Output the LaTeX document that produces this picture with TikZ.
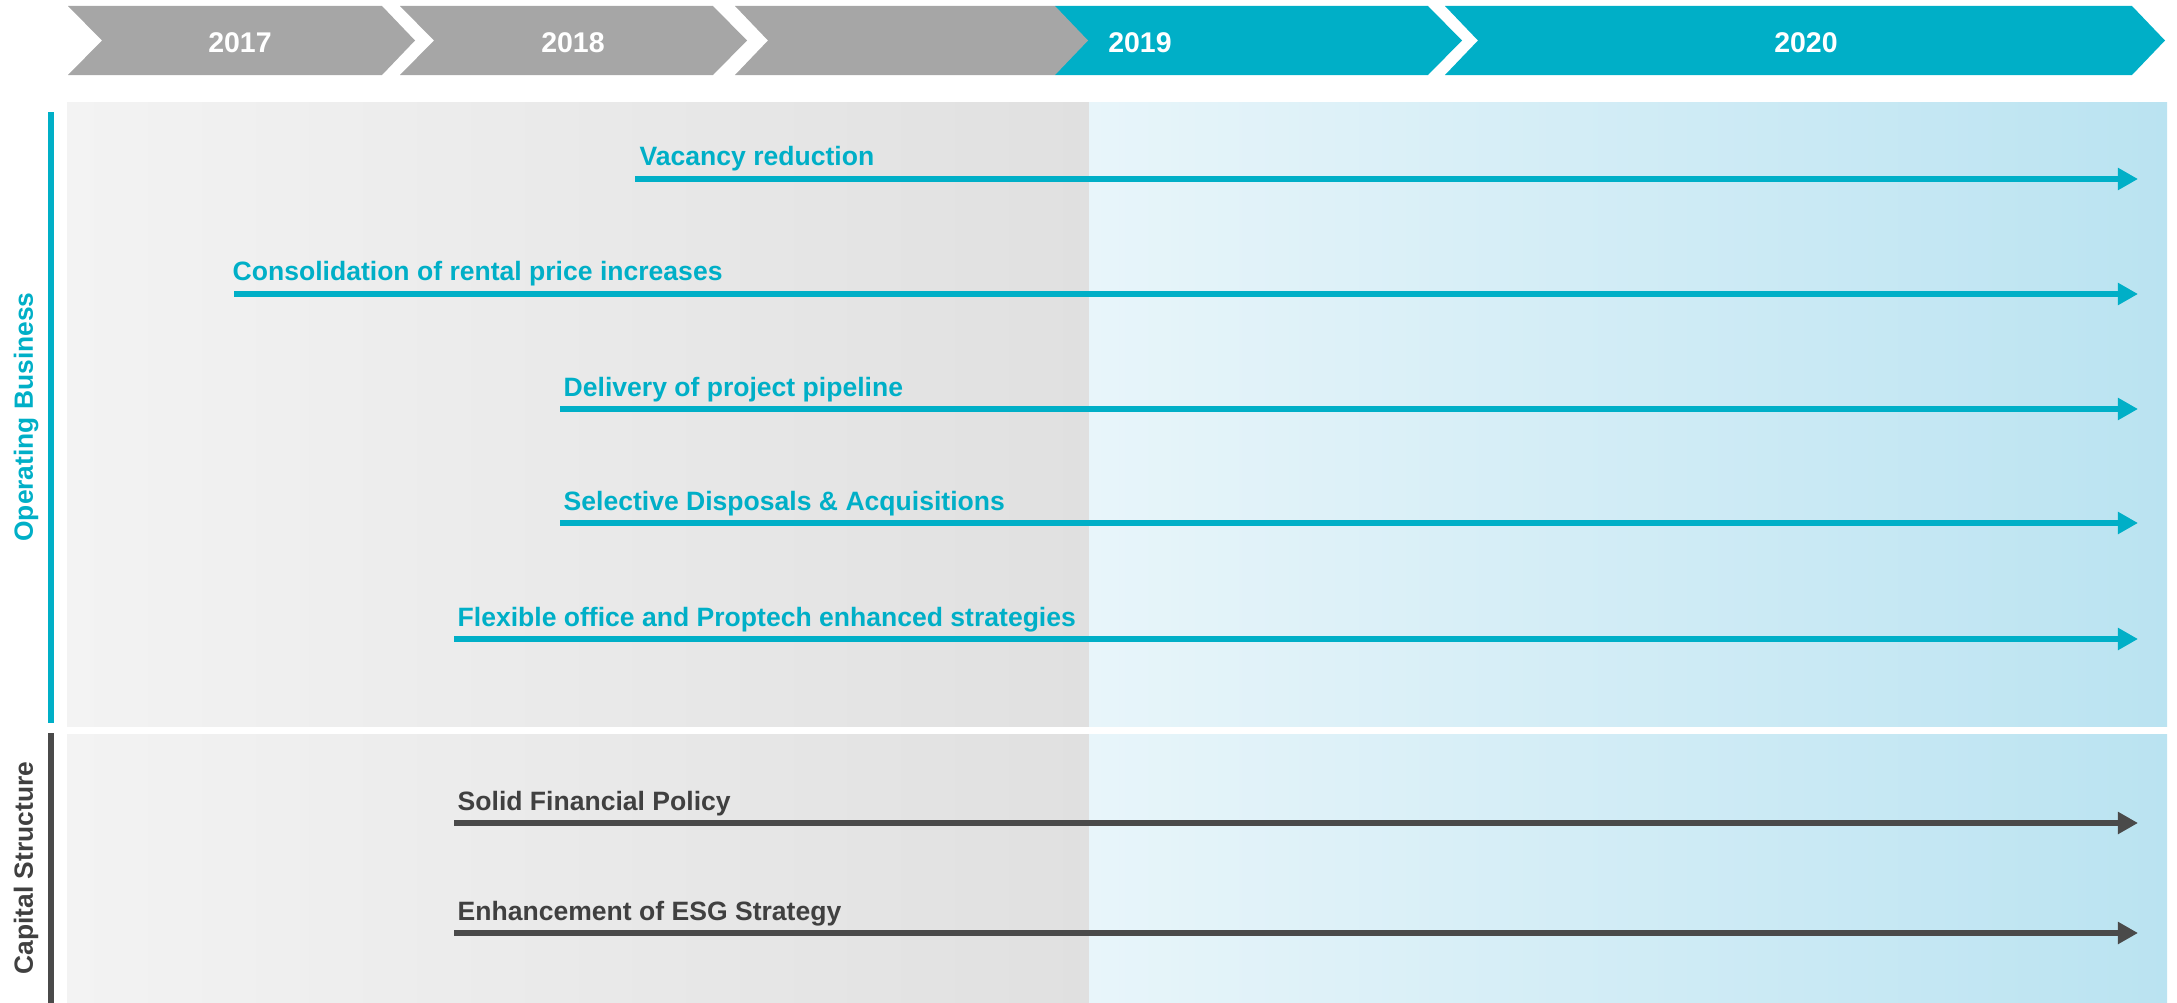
\documentclass[tikz,border=0pt]{standalone}
\usepackage{fontspec}
\setmainfont{Liberation Sans}
\usepackage{xcolor}
\usepackage{tikz}
\usetikzlibrary{arrows.meta,positioning}

\definecolor{brandteal}{RGB}{0,175,199}
\definecolor{chevgrey}{RGB}{166,166,166}
\definecolor{darkline}{RGB}{74,74,74}
\definecolor{darktext}{RGB}{64,64,64}
\definecolor{greyL}{RGB}{243,243,243}
\definecolor{greyR}{RGB}{224,224,224}
\definecolor{blueL}{RGB}{232,245,250}
\definecolor{blueR}{RGB}{186,227,241}

\begin{document}
\begin{tikzpicture}[
    x=0.01cm, y=-0.01cm,
    year/.style={font=\fontsize{8.1}{10}\selectfont\bfseries, text=white, inner sep=0pt, anchor=base},
    task/.style={font=\fontsize{7.55}{9}\selectfont\bfseries, inner sep=0pt, anchor=base west},
    side/.style={font=\fontsize{7.5}{9}\selectfont\bfseries, rotate=90, inner sep=0pt},
    arr/.style={-{Triangle[length=0.2cm, width=0.21cm]}, line width=0.06cm}
  ]
    \useasboundingbox (0,0) rectangle (2177,1003);

    % background panels
    \shade[left color=greyL, right color=greyR] (67,102) rectangle (1089,726);
    \shade[left color=blueL, right color=blueR] (1089,102) rectangle (2167,726);
    \shade[left color=greyL, right color=greyR] (67,734) rectangle (1089,1003);
    \shade[left color=blueL, right color=blueR] (1089,734) rectangle (2167,1003);

    % side bars
    \fill[brandteal] (48,112) rectangle (54,723);
    \fill[darkline] (48,733) rectangle (54,1003);
    \node[side, text=brandteal] (opbiz) at (26,417) {Operating Business};
    \node[side, text=darktext] (capstr) at (26,868) {Capital Structure};

    % year chevrons
    \fill[brandteal] (1055,6) -- (1428,6) -- (1462,40.5) -- (1428,75) -- (1055,75) -- cycle;
    \fill[brandteal] (1445,6) -- (2132,6) -- (2165,40.5) -- (2132,75) -- (1445,75) -- (1478,40.5) -- cycle;
    \fill[chevgrey] (68,6) -- (382,6) -- (415,40.5) -- (382,75) -- (68,75) -- (102,40.5) -- cycle;
    \fill[chevgrey] (400,6) -- (713,6) -- (747,40.5) -- (713,75) -- (400,75) -- (434,40.5) -- cycle;
    \fill[chevgrey] (735,6) -- (1055,6) -- (1088,40.5) -- (1055,75) -- (735,75) -- (768,40.5) -- cycle;

    \node[year] (y17) at (240,52) {2017};
    \node[year] (y18) at (573,52) {2018};
    \node[year] (y19) at (1140,52) {2019};
    \node[year] (y20) at (1806,52) {2020};

    % operating business
    \coordinate (vacS) at (635,179);   \coordinate (vacE) at (2138,179);
    \coordinate (conS) at (234,294);   \coordinate (conE) at (2138,294);
    \coordinate (pipS) at (560,409);   \coordinate (pipE) at (2138,409);
    \coordinate (dispS) at (560,523);  \coordinate (dispE) at (2138,523);
    \coordinate (flexS) at (454,639);  \coordinate (flexE) at (2138,639);

    \node[task, text=brandteal] (vac) at (639,166) {Vacancy reduction};
    \node[task, text=brandteal] (con) at (232,281) {Consolidation of rental price increases};
    \node[task, text=brandteal] (pip) at (563,396) {Delivery of project pipeline};
    \node[task, text=brandteal] (disp) at (563,510) {Selective Disposals \& Acquisitions};
    \node[task, text=brandteal] (flex) at (457,626) {Flexible office and Proptech enhanced strategies};

    \draw[arr, brandteal] (vacS) -- (vacE);
    \draw[arr, brandteal] (conS) -- (conE);
    \draw[arr, brandteal] (pipS) -- (pipE);
    \draw[arr, brandteal] (dispS) -- (dispE);
    \draw[arr, brandteal] (flexS) -- (flexE);

    % capital structure
    \coordinate (finS) at (454,823);  \coordinate (finE) at (2138,823);
    \coordinate (esgS) at (454,933);  \coordinate (esgE) at (2138,933);

    \node[task, text=darktext] (fin) at (457,810) {Solid Financial Policy};
    \node[task, text=darktext] (esg) at (457,920) {Enhancement of ESG Strategy};

    \draw[arr, darkline] (finS) -- (finE);
    \draw[arr, darkline] (esgS) -- (esgE);
  \end{tikzpicture}
\end{document}
